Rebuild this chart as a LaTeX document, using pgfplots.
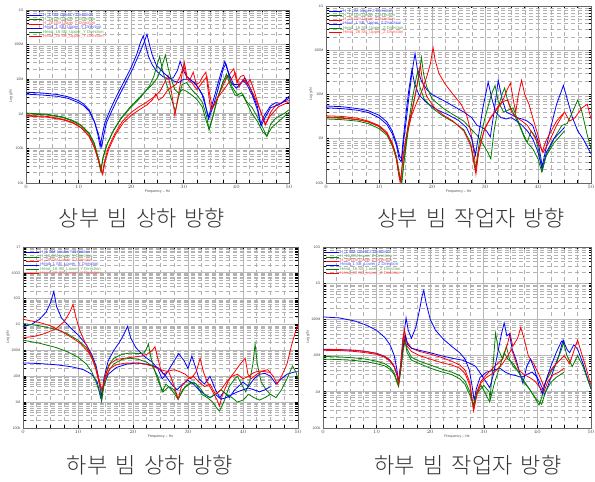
\documentclass[border=0pt]{standalone}
\usepackage{pgfplots}
\pgfplotsset{compat=1.18}
\usepackage{fontspec}
\setmainfont{Liberation Sans}
\IfFontExistsTF{Noto Sans CJK KR Light}{\newfontfamily\kr{Noto Sans CJK KR Light}[WordSpace=1.7]}{\newfontfamily\kr{Noto Sans CJK KR}[WordSpace=1.7]}
\definecolor{cblue}{RGB}{0,0,255}
\definecolor{cgreen}{RGB}{0,125,0}
\definecolor{cred}{RGB}{255,0,0}
\newcommand{\legt}[2]{\textcolor{#1!65}{#2}}
\pgfplotsset{
 legend image code/.code={\draw[#1] (0pt,0pt) -- (13pt,0pt);},
 frf/.style={
   scale only axis, xmin=0, xmax=50,
   xtick={0,10,20,30,40,50}, minor x tick num=3,
   grid=both,
   major grid style={draw=black!28, line width=0.9pt},
   minor grid style={draw=black!30, line width=0.5pt, dash pattern=on 4pt off 3pt},
   tick label style={font=\fontsize{3.6}{4}\selectfont, text=black!70},
   label style={font=\fontsize{3.6}{4}\selectfont, text=black!70},
   xlabel={Frequency -- Hz}, ylabel={Log g/N},
   xlabel style={yshift=5pt}, ylabel style={yshift=-5pt},
   xticklabel style={yshift=1.5pt}, yticklabel style={xshift=1pt},
   axis line style={black!60, line width=0.4pt},
   tick style={black, line width=0.6pt},
   major tick length=2.5pt, minor tick length=2.5pt,
   legend style={draw=none, fill=none, at={(0.01,0.985)}, anchor=north west,
     font=\fontsize{4.2}{4.6}\selectfont, row sep=-1.6pt, inner sep=0pt,
     nodes={inner sep=0.6pt}},
   legend cell align=left,
   every axis plot/.append style={line width=0.8pt},
 }
}
\begin{document}
\begin{tikzpicture}
\useasboundingbox (0,0) rectangle (595pt,482pt);
\fill[white] (0,0) rectangle (595pt,482pt);

% ---------------- Panel 1: Upper Y ----------------
\begin{axis}[ymode=log, frf, at={(26pt,299pt)}, anchor=south west, width=263pt, height=173pt,
  ymin=1e4, ymax=1e9, ytick={1e4,1e5,1e6,1e7,1e8,1e9}, yticklabels={10k,100k,1M,10M,100M,1G}]
\addplot[cblue] coordinates {(0,4.2e6)(3,4.0e6)(6,3.6e6)(8,3.1e6)(10,2.4e6)(11,1.9e6)(12,1.3e6)(13,6e5)(13.6,2.8e5)(14.1,1.1e5)(14.5,2.5e5)(15,5.5e5)(16,1.3e6)(17,2.8e6)(18,5.5e6)(19,1.1e7)(20,2.2e7)(21,5e7)(21.8,1.2e8)(22.3,1.8e8)(22.7,1.0e8)(23.3,4.5e7)(24,2.6e7)(25,1.6e7)(26,1.2e7)(27,1.0e7)(28,1.1e7)(28.8,1.8e7)(29.3,3.3e7)(29.8,2e7)(30.5,1.2e7)(31.5,9e6)(32.5,6.5e6)(33.5,3.5e6)(34.2,1.5e6)(34.7,8e5)(35.2,1.5e6)(36,4e6)(37,1.4e7)(37.8,3.3e7)(38.4,1.6e7)(39,8e6)(40,5.5e6)(41,8e6)(41.6,1.1e7)(42.3,7e6)(43,4e6)(44,1.6e6)(44.6,5e5)(45.3,9e5)(46.5,1.7e6)(47.5,2.1e6)(48.5,2e6)(50,3.2e6)};
\addlegendentry{\legt{cblue}{H\_1 DM Upper Y Direction}}
\addplot[cgreen] coordinates {(0,1.0e6)(4,9.3e5)(7,7.8e5)(9,6e5)(10.5,4.5e5)(12,2.6e5)(13,1.3e5)(13.7,5e4)(14.2,2.2e4)(14.6,5e4)(15.3,1.2e5)(16.5,3e5)(18,7e5)(19.5,1.3e6)(21,2.2e6)(22.5,4e6)(23.5,6.5e6)(24.3,1.2e7)(24.9,2.5e7)(25.4,4.5e7)(25.9,2e7)(26.6,8e6)(27.3,4e6)(27.9,2e6)(28.4,1.2e6)(29,3e6)(29.7,7e6)(30.5,8e6)(31.5,5e6)(32.5,3.5e6)(33.5,2.2e6)(34.3,9e5)(34.8,3.4e5)(35.4,7e5)(36.3,2.5e6)(37.3,7e6)(38.1,1.4e7)(38.8,7e6)(39.7,3.5e6)(40.5,3.2e6)(41.3,3.5e6)(42,2.2e6)(43,1.5e6)(44,8e5)(45,4e5)(45.8,2.2e5)(46.5,5e5)(47.5,7.5e5)(49,1e6)(50,1.3e6)};
\addlegendentry{\legt{cgreen}{H\_16 DM Upper Y Direction}}
\addplot[cred] coordinates {(0,9e5)(4,8.4e5)(7,7e5)(9,5.5e5)(10.5,4e5)(12,2.3e5)(13,1.1e5)(13.9,4e4)(14.5,1.8e4)(14.9,4e4)(15.6,1e5)(16.8,2.5e5)(18.3,6e5)(20,1.1e6)(21.5,1.6e6)(23,2.2e6)(24.5,3.2e6)(25.5,4.5e6)(26.5,9e6)(27,1.3e7)(27.5,6e6)(28,2e6)(28.3,9e5)(28.8,2.5e6)(29.5,1e7)(30.1,3.1e7)(30.6,1.2e7)(31.2,1e7)(31.8,1.6e7)(32.4,7e6)(33,8e6)(33.6,1.2e7)(34.2,1.6e7)(34.6,5e6)(35.1,1.3e6)(35.8,1.8e6)(36.8,4e6)(38,1e7)(39,1.6e7)(39.5,2e7)(40.1,8e6)(40.8,1.2e7)(41.4,1.3e7)(42,7e6)(42.6,1e7)(43.3,5e6)(44.3,1.6e6)(45.5,4.7e5)(46.5,1.1e6)(47.5,1.8e6)(49,2.2e6)(50,2.4e6)};
\addlegendentry{\legt{cred}{H\_28 DM Upper Y Direction}}
\addplot[cblue] coordinates {(0,3.7e6)(3,3.5e6)(6,3.2e6)(8,2.8e6)(10,2.1e6)(11,1.7e6)(12,1.2e6)(13,6e5)(13.8,2.5e5)(14.4,1.1e5)(14.8,2.5e5)(15.3,5.5e5)(16.3,1.2e6)(17.3,2.5e6)(18.3,5e6)(19.3,1e7)(20.3,2e7)(21.3,4.5e7)(22.4,1.1e8)(23.0,2e8)(23.4,1.1e8)(24,5e7)(24.8,2.5e7)(25.5,2e7)(26.2,1.5e7)(27,1.2e7)(28,9e6)(29,8e6)(30,1e7)(31,1e7)(32,8e6)(33,5e6)(33.8,3e6)(34.7,7e5)(35.5,1.5e6)(36.5,5e6)(37.5,2e7)(38,2.8e7)(38.6,1.4e7)(39.5,7e6)(40.5,7e6)(41.3,9e6)(42,7e6)(43,3.5e6)(44,1.3e6)(44.7,4.5e5)(45.5,8e5)(46.5,1.5e6)(48,1.8e6)(50,2.8e6)};
\addlegendentry{\legt{cblue}{Head\_1 SB\_Upper\_Y Direction}}
\addplot[cgreen] coordinates {(0,1.05e6)(4,9.7e5)(7,8.1e5)(9,6.3e5)(10.5,4.7e5)(12,2.8e5)(13,1.4e5)(13.8,5e4)(14.3,2.5e4)(14.7,6e4)(15.5,1.4e5)(16.7,3.5e5)(18.2,8e5)(19.7,1.5e6)(21.2,2.6e6)(22.7,4.5e6)(24,7e6)(25,1.1e7)(25.8,2.2e7)(26.5,5e7)(27,2.2e7)(27.6,1e7)(28.3,5e6)(29,4e6)(29.8,5e6)(30.5,4.5e6)(31.5,3.5e6)(32.5,2.6e6)(33.5,1.6e6)(34.3,6e5)(34.8,3.6e5)(35.5,8e5)(36.5,3e6)(37.5,9e6)(38.4,1.3e7)(39.2,6e6)(40.2,3.5e6)(41,4e6)(42,2e6)(43,1e6)(44,6e5)(45,3e5)(45.8,2.3e5)(46.7,4e5)(48,6e5)(50,1.1e6)};
\addlegendentry{\legt{cgreen}{Head\_16 SB\_Upper\_Y Direction}}
\addplot[cred] coordinates {(0,8.6e5)(4,8e5)(7,6.7e5)(9,5.3e5)(10.5,3.9e5)(12,2.2e5)(13,1.05e5)(14,3.5e4)(14.6,1.8e4)(15,4e4)(15.8,1e5)(17,2.5e5)(18.5,5.5e5)(20,9e5)(21.5,1.3e6)(23,1.8e6)(24,2.5e6)(24.7,3.8e6)(25.2,2.5e6)(26,3e6)(27,5e6)(28.5,7e6)(29.3,1.2e7)(30,2.5e7)(30.6,1e7)(31.5,8e6)(32.5,5e6)(33.5,8e6)(34.4,1.2e7)(35,3e6)(35.5,1.5e6)(36.5,3e6)(38,6e6)(39,1e7)(39.8,1.5e7)(40.5,6e6)(41.3,1e7)(42.3,7e6)(43.3,3.5e6)(44.5,1.3e6)(45.5,5e5)(46.5,9e5)(48,1.6e6)(50,2.2e6)};
\addlegendentry{\legt{cred}{Head\_28 SB\_Upper\_Y Direction}}
\end{axis}

% ---------------- Panel 2: Upper Z ----------------
\begin{axis}[ymode=log, frf, at={(326pt,299pt)}, anchor=south west, width=265pt, height=177pt,
  ymin=1e5, ymax=1e9, ytick={1e5,1e6,1e7,1e8,1e9}, yticklabels={100k,1M,10M,100M,1G}]
\addplot[cblue] coordinates {(0,5.5e6)(3,5.3e6)(6,4.8e6)(8,4.3e6)(10,3.4e6)(11.5,2.4e6)(12.5,1.5e6)(13.3,8e5)(13.9,4e5)(14.3,3.5e5)(14.7,1e6)(15.2,3e6)(15.7,1e7)(16.2,3e7)(16.8,8.5e7)(17.2,4e7)(18,2e7)(19,1.3e7)(20,1e7)(22,7.5e6)(24,5.5e6)(26,4e6)(27.5,3e6)(28.5,2e6)(29.5,1.8e6)(30.3,1.5e6)(31,1.1e6)(31.7,4e6)(32.5,2.1e7)(33.2,8e6)(34,4e6)(35,3.5e6)(36,3e6)(37,2.8e6)(38,2.5e6)(39,2e6)(40,9e5)(40.8,2.4e5)(41.5,6e5)(42.5,2e6)(43.5,6e6)(44.8,1.6e7)(45.5,8e6)(46.5,3e6)(47.5,1.5e6)(48.5,1e6)(50,4.6e5)};
\addlegendentry{\legt{cblue}{H\_1 DM Upper Z Direction}}
\addplot[cgreen] coordinates {(0,3.1e6)(3,3e6)(6,2.7e6)(8,2.4e6)(10,1.9e6)(11.5,1.3e6)(12.5,8e5)(13.3,4e5)(13.9,1.5e5)(14.3,1.1e5)(14.7,3e5)(15.5,1.5e6)(16.3,5e6)(17,1.2e7)(17.6,3e7)(18,6.9e7)(18.4,3e7)(19,1.5e7)(20,8e6)(22,5e6)(24,3.5e6)(26,2.5e6)(27.5,1.6e6)(28.5,1.2e6)(29.5,8e5)(30.5,5e5)(31.1,3.5e5)(31.7,1.5e6)(32.5,5e6)(33.2,1e7)(33.7,1.4e7)(34.3,7e6)(35.5,3.5e6)(36.5,2e6)(37.5,1e6)(38,8.5e5)(38.7,1.5e6)(39.5,1.1e6)(40.2,5e5)(40.8,1.9e5)(41.5,4e5)(43,1e6)(44.5,2e6)(45.5,2.2e6)(46.5,4e6)(47.5,7.5e6)(48.3,4e6)(49.3,1.2e6)(50,6e5)};
\addlegendentry{\legt{cgreen}{H\_16 DM Upper Z Direction}}
\addplot[cred] coordinates {(0,3.3e6)(3,3.2e6)(6,2.9e6)(8,2.5e6)(10,2e6)(11.5,1.4e6)(12.5,8e5)(13.2,4e5)(13.7,1.6e5)(14.0,1e5)(14.4,2.5e5)(15.2,1.2e6)(16.2,3.5e6)(17.2,7e6)(18.2,1.3e7)(19,2.5e7)(19.7,5e7)(20.2,1.15e8)(20.6,6e7)(21.3,3e7)(22.5,1.7e7)(24,1e7)(25.5,6e6)(26.5,3.5e6)(27.3,1.5e6)(28,4e5)(28.3,1.6e5)(28.8,5e5)(29.8,1.5e6)(31,3e6)(32.5,5e6)(33.5,8e6)(34.2,1.3e7)(34.8,1.8e7)(35.3,8e6)(35.8,4e6)(36.3,1e7)(36.9,2.1e7)(37.5,1e7)(38.3,6e6)(39,3e6)(40,1.2e6)(40.8,5e5)(41.5,9e5)(42.5,1.5e6)(43.5,2.5e6)(45,4e6)(46,2.5e6)(47,3e6)(48.3,5e6)(49.3,6e6)(49.8,3.5e6)(50,2.8e6)};
\addlegendentry{\legt{cred}{H\_28 DM Upper Z Direction}}
\addplot[cblue] coordinates {(0,5e6)(3,4.8e6)(6,4.4e6)(8,3.9e6)(10,3e6)(11.5,2.1e6)(12.5,1.3e6)(13.3,7e5)(13.8,3.5e5)(14.2,3e5)(14.5,8e5)(15,3e6)(15.6,1.2e7)(16.2,3.6e7)(16.7,1.8e7)(17.5,1e7)(19,6.5e6)(21,4.5e6)(23,3.5e6)(25,2.6e6)(26.5,1.8e6)(27.5,1e6)(28.2,4.3e5)(28.8,1.2e6)(29.6,5e6)(30.6,1.9e7)(31.3,8e6)(32,4e6)(33,3e6)(34,2.8e6)(35,3e6)(36,2.5e6)(37,2e6)(38,1.5e6)(39,1e6)(40,5e5)(40.8,2e5)(41.6,5e5)(43,1e6)(45,1.8e6)};
\addlegendentry{\legt{cblue}{Head\_1 SB\_Upper\_Z Direction}}
\addplot[cgreen] coordinates {(0,2.8e6)(3,2.7e6)(6,2.5e6)(8,2.2e6)(10,1.7e6)(11.5,1.2e6)(12.5,7e5)(13.3,3.5e5)(13.9,1.4e5)(14.3,1e5)(14.7,3e5)(15.5,2e6)(16.3,8e6)(16.9,2e7)(17.3,3.4e7)(17.7,1.5e7)(18.5,8e6)(20,5e6)(22,3.3e6)(24,2.4e6)(26,1.6e6)(27.3,8e5)(28.2,2e5)(28.9,8e5)(30,3e6)(31.2,1e7)(31.9,1.6e7)(32.5,7e6)(33.5,4e6)(34.5,4.5e6)(35.3,5e6)(36,3e6)(37,1.5e6)(38,8e5)(39,6e5)(40,3.5e5)(40.7,1.8e5)(41.5,4e5)(43,8e5)(45,1.5e6)};
\addlegendentry{\legt{cgreen}{Head\_16 SB\_Upper\_Z Direction}}
\addplot[cred] coordinates {(0,3e6)(3,2.9e6)(6,2.7e6)(8,2.4e6)(10,1.9e6)(11.5,1.3e6)(12.5,7.5e5)(13.3,3.5e5)(13.8,1.4e5)(14.1,1.1e5)(14.5,4e5)(15.5,2e6)(16.5,6e6)(17.3,2e7)(17.8,4.6e7)(18.2,2e7)(19,9e6)(20.5,5e6)(22,3.5e6)(24,2.5e6)(26,1.5e6)(27.3,7e5)(28.2,1.8e5)(28.9,6e5)(30,1.8e6)(31.5,3.5e6)(32.5,5.5e6)(33.5,7e6)(34.3,7.5e6)(35,4e6)(36,3e6)(37,2.5e6)(38,2e6)(39,1.3e6)(40,8e5)(41,5e5)(42,8e5)(43.5,2e6)(45,4e6)};
\addlegendentry{\legt{cred}{Head\_28 SB\_Upper\_Z Direction}}
\end{axis}

% ---------------- Panel 3: Lower Y ----------------
\begin{axis}[ymode=log, frf, at={(23pt,54pt)}, anchor=south west, width=275pt, height=181pt,
  ymin=1e5, ymax=1e12, ytick={1e5,1e6,1e7,1e8,1e9,1e10,1e11,1e12}, yticklabels={100k,1M,10M,100M,1G,10G,100G,1T}]
\addplot[cblue] coordinates {(0,8.5e8)(1.5,1e9)(3,1.6e9)(4.2,3e9)(5,7e9)(5.6,1.9e10)(6.1,5e9)(7,1.8e9)(8.5,8e8)(10,4e8)(11.5,1.7e8)(12.5,7e7)(13.3,2.5e7)(13.9,6e6)(14.3,1.2e6)(14.7,8e6)(15.5,4e7)(16.5,1e8)(17.5,2e8)(18.3,4e8)(19,8.5e8)(19.6,3e8)(20.5,1.3e8)(22,6e7)(23.5,3.5e7)(24.5,2e7)(25.3,8e6)(26,1.2e7)(27.5,4e7)(28.3,7.5e7)(29.3,4e7)(30,2e7)(30.7,6e7)(31.3,2.5e7)(32,8e6)(33,5e6)(34,1e7)(35,3e6)(35.8,1.5e6)(36.5,2.5e6)(37.5,1.5e6)(38.5,3e6)(40,6e6)(41,4e6)(42,8e6)(43,1.2e7)(44,1.3e7)(45,1e7)(46,5e6)(47,8e6)(48,1.2e7)(49.5,1.5e7)(50,1.5e7)};
\addlegendentry{\legt{cblue}{H\_1 DM Lower Y Direction}}
\addplot[cgreen] coordinates {(0,1.1e9)(3,9e8)(6,6.5e8)(8,4.5e8)(10,2.5e8)(11.5,1.3e8)(12.5,6e7)(13.3,2e7)(13.9,5e6)(14.3,1.2e6)(14.7,6e6)(15.5,2.5e7)(16.5,5e7)(18,7e7)(19.5,8e7)(21,7.5e7)(22,8e7)(22.5,1.2e8)(22.8,1.8e8)(23.2,6e7)(24,1.5e7)(24.8,5e6)(25.5,2.5e6)(26.5,4e6)(27.5,3e6)(28.2,1.3e6)(29,3e6)(30.5,6e6)(31.5,5e6)(32.5,2e6)(33.5,1.5e6)(34.5,1e6)(35.2,6e5)(35.7,4.5e5)(36.5,1e6)(37.5,4e6)(38.5,8e6)(39,1e7)(39.7,5e6)(40.5,2.5e6)(41.2,6e6)(41.8,3e7)(42.2,1.8e8)(42.6,3e7)(43.3,6e6)(44.2,3e6)(45,2e6)(46,1.5e6)(47,3e6)(48,8e6)(49,2.5e7)(49.6,1.5e7)(50,8e6)};
\addlegendentry{\legt{cgreen}{H\_16 DM Lower Y Direction}}
\addplot[cred] coordinates {(0,1.6e9)(3,1.2e9)(5,9e8)(7,5.5e8)(9,3e8)(10.5,1.8e8)(12,8e7)(13,3e7)(13.8,8e6)(14.4,2.5e6)(14.9,1e7)(15.8,3e7)(17,4.5e7)(18.5,5e7)(20,5.5e7)(21.5,6e7)(22.5,7e7)(23.5,1e8)(24,1.4e8)(24.4,6e7)(25,2e7)(25.5,1.2e7)(26.5,1.6e7)(27.5,1.8e7)(28.5,1.5e7)(29.5,1.2e7)(30.5,8e6)(31.5,1.5e7)(32.2,4.9e7)(32.8,1.5e7)(33.5,6e6)(34.5,2.5e6)(35.3,1.2e6)(35.7,7e5)(36.3,2e6)(37.5,8e6)(38.5,1.5e7)(39.5,3e7)(40.4,5e7)(40.9,1.2e7)(41.5,8e6)(42.5,1.2e7)(43.5,1.6e7)(44.5,1.8e7)(45.5,1e7)(46.2,5e6)(47,1e7)(48,3e7)(48.8,1.5e8)(49.5,5e8)(50,9e8)};
\addlegendentry{\legt{cred}{H\_28 DM Lower Y Direction}}
\addplot[cblue] coordinates {(0,3.3e7)(3,3.1e7)(6,2.8e7)(9,2.3e7)(11,1.8e7)(12.5,1.2e7)(13.5,6e6)(14.1,1.5e6)(14.6,4e6)(15.5,1.2e7)(17,2.2e7)(19,3e7)(21,3.3e7)(23,2.8e7)(24.5,2.2e7)(26,1e7)(27,5e6)(28,3e6)(29,5e6)(30,7e6)(31,5e6)(32,3e6)(33,2e6)(34,1.5e6)(35,2e6)(36,1.3e6)(37,1.5e6)(38,2e6)(39,2.5e6)(40,3e6)(41,3.5e6)(42,3e6)(43,2.5e6)(44,3e6)(45,4e6)};
\addlegendentry{\legt{cblue}{Head\_1 SB\_Lower\_Y Direction}}
\addplot[cgreen] coordinates {(0,2.5e8)(3,1.9e8)(6,1.3e8)(8,9e7)(10,5.5e7)(11.5,3e7)(12.5,1.5e7)(13.3,6e6)(13.9,2.5e6)(14.3,1.2e6)(14.7,4e6)(15.5,1.5e7)(16.5,3e7)(18,4.5e7)(19.5,5e7)(21,4.5e7)(22.5,3.5e7)(23.5,2.5e7)(24.5,1e7)(25.3,2.5e6)(26,5e6)(27,3e6)(28.2,1.3e6)(29.5,4e6)(31,6e6)(32,4e6)(33,2e6)(34,1.5e6)(35,2e6)(36,3e6)(37,2e6)(38,1.5e6)(39,1e6)(40,1.2e6)(41,2e6)(42,1.5e6)(43,1.2e6)(44,1.5e6)(45,2e6)};
\addlegendentry{\legt{cgreen}{Head\_16 SB\_Lower\_Y Direction}}
\addplot[cred] coordinates {(0,3.1e8)(2,3.5e8)(4,4.5e8)(6,7e8)(7.5,1.3e9)(8.5,3e9)(9.1,6e9)(9.6,2e9)(10.3,6e8)(11.3,2e8)(12.3,7e7)(13.2,2e7)(13.9,5e6)(14.4,3e6)(14.9,8e6)(15.8,2e7)(17,2.8e7)(18.5,3.2e7)(20,3.3e7)(22,3e7)(23.5,2.5e7)(25,1.8e7)(26.5,1.5e7)(27,8e6)(27.7,3e6)(28.2,1.3e6)(28.8,4e6)(30,8e6)(31,1e7)(32,6e6)(33,4e6)(34,5e6)(35,2e6)(36,3e6)(37,6e6)(38,1e7)(39,1.2e7)(40,8e6)(41,1e7)(42,1.4e7)(43,1.6e7)(44,1.5e7)(45,1.4e7)};
\addlegendentry{\legt{cred}{Head\_28 SB\_Lower\_Y Direction}}
\end{axis}

% ---------------- Panel 4: Lower Z ----------------
\begin{axis}[ymode=log, frf, at={(323pt,54pt)}, anchor=south west, width=268pt, height=181pt,
  ymin=1e5, ymax=1e10, ytick={1e5,1e6,1e7,1e8,1e9,1e10}, yticklabels={100k,1M,10M,100M,1G,10G}]
\addplot[cblue] coordinates {(0,1.17e8)(3,1.1e8)(6,9e7)(8,7e7)(10,5e7)(11.5,3.2e7)(12.5,2e7)(13.3,1e7)(13.8,4e6)(14.1,1.8e6)(14.5,5e6)(15.0,3e7)(15.5,1.1e8)(15.9,5e7)(16.5,3e7)(17.3,6e7)(18,1.8e8)(18.5,4.5e8)(18.8,6.3e8)(19.2,3e8)(20,1e8)(21,5e7)(22.5,2.8e7)(24,1.8e7)(25.5,1.2e7)(26.5,8e6)(27.3,4e6)(27.8,1.5e6)(28.2,5.8e5)(28.6,1.2e6)(29.3,2.5e6)(30.5,3.5e6)(32,4e6)(33,4.5e6)(34,3.5e6)(35,3e6)(36,2.8e6)(37,2.5e6)(38,3e6)(39,3.5e6)(40,2.5e6)(41,1.2e6)(41.3,8e5)(42,1.5e6)(43,4e6)(44,1e7)(44.8,2.7e7)(45.5,1.5e7)(46,1.2e7)(46.8,2e7)(47.5,1.5e7)(48.5,6e6)(50,1.2e6)};
\addlegendentry{\legt{cblue}{H\_1 DM Lower Z Direction}}
\addplot[cgreen] coordinates {(0,9.5e6)(3,9.2e6)(6,8.6e6)(8,8e6)(10,7e6)(11.5,6e6)(12.5,4.8e6)(13.3,3.3e6)(13.8,2e6)(14.1,1.5e6)(14.5,4e6)(15,2e7)(15.3,3.2e7)(15.7,1.5e7)(16.5,9e6)(18,7e6)(20,5.5e6)(22,4.3e6)(24,3.5e6)(25.5,2.8e6)(26.5,2e6)(27.4,1e6)(28.1,3.8e5)(28.7,1e6)(29.5,1.5e6)(30.3,9e5)(31.1,5.2e5)(31.7,5e6)(32.2,4.2e7)(32.7,1.5e7)(33.5,8e6)(34.2,1.8e7)(34.8,8e6)(35.5,5e6)(36.5,3.5e6)(37.5,2e6)(38.5,1.2e6)(39.5,7e5)(40.3,4.3e5)(40.8,7e5)(41.5,1.8e6)(42.5,3.5e6)(43.5,6e6)(44.5,1.5e7)(44.9,2.3e7)(45.5,1e7)(46.5,5e6)(47.5,1e7)(48.5,5e6)(50,1.2e6)};
\addlegendentry{\legt{cgreen}{H\_16 DM Lower Z Direction}}
\addplot[cred] coordinates {(0,1.4e7)(3,1.38e7)(6,1.3e7)(8,1.2e7)(10,1.08e7)(11.5,9e6)(12.5,7e6)(13.3,4.8e6)(13.8,3e6)(14.1,2e6)(14.5,6e6)(14.9,3e7)(15.2,5.2e7)(15.6,2.5e7)(16.5,1.6e7)(18,1.3e7)(20,1.1e7)(22,9e6)(24,7e6)(25.5,5.5e6)(26.5,4e6)(27.4,1.8e6)(28.1,3.1e5)(28.7,1e6)(29.5,2e6)(30.5,3e6)(32,5e6)(33.5,8e6)(34.4,2e7)(34.9,4.2e7)(35.4,1.8e7)(36.3,3e7)(36.9,6e7)(37.5,3e7)(38.3,1e7)(39.3,6e6)(40.3,3e6)(41.2,1.4e6)(42,3e6)(43,5e6)(44,7e6)(45,1e7)(46,6e6)(46.7,1.2e7)(47.5,2.7e7)(48.2,1.2e7)(49,5e6)(50,1.5e6)};
\addlegendentry{\legt{cred}{H\_28 DM Lower Z Direction}}
\addplot[cblue] coordinates {(0,1.48e7)(3,1.45e7)(6,1.4e7)(8,1.3e7)(10,1.15e7)(11.5,9.5e6)(12.5,7.5e6)(13.3,5e6)(13.8,3e6)(14.1,1.8e6)(14.5,5e6)(15,1.8e7)(15.4,3.5e7)(15.8,2e7)(16.5,1.6e7)(18,1.4e7)(20,1.2e7)(22,1e7)(24,8.5e6)(26,7.5e6)(27.5,6e6)(28.5,5e6)(29.5,3e6)(30.3,2e6)(31.1,1.3e6)(31.8,3e6)(32.5,1e7)(33.3,4e7)(33.8,8e7)(34.3,3.5e7)(34.8,4e7)(35.3,1.5e7)(36,8e6)(36.8,3e6)(37.3,1.7e6)(38,5e6)(38.7,8e6)(39.5,4e6)(40.3,1.5e6)(40.9,9e5)(41.5,1.8e6)(42.5,5e6)(43.5,1.2e7)(44.5,2.5e7)(45,2.2e7)};
\addlegendentry{\legt{cblue}{Head\_1 SB\_Lower\_Z Direction}}
\addplot[cgreen] coordinates {(0,8e6)(3,7.8e6)(6,7.3e6)(8,6.8e6)(10,6e6)(11.5,5.2e6)(12.5,4.2e6)(13.3,3e6)(13.8,1.8e6)(14.1,1.4e6)(14.5,4e6)(15,1.5e7)(15.3,2.5e7)(15.7,1.2e7)(16.5,7.5e6)(18,6e6)(20,4.5e6)(22,3.6e6)(24,3e6)(25.5,2.3e6)(26.5,1.6e6)(27.4,8e5)(28.1,4.5e5)(28.7,9e5)(30,1.5e6)(31,1e6)(31.2,6e5)(32,1.8e6)(33,5e6)(33.8,1.2e7)(34.5,8e6)(35.5,6e6)(36.5,3.5e6)(37.5,1.8e6)(38.5,1.2e6)(39.5,7e5)(40.8,4.5e5)(41.5,1e6)(42.5,1.8e6)(43.5,2.5e6)(45,3.5e6)};
\addlegendentry{\legt{cgreen}{Head\_16 SB\_Lower\_Z Direction}}
\addplot[cred] coordinates {(0,1.5e7)(3,1.47e7)(6,1.4e7)(8,1.3e7)(10,1.15e7)(11.5,9.5e6)(12.5,7.5e6)(13.3,5e6)(13.8,3e6)(14.1,1.7e6)(14.5,5e6)(14.9,2.5e7)(15.1,4e7)(15.5,2e7)(16.5,1.3e7)(18,1e7)(20,8e6)(22,6.5e6)(24,5.5e6)(25.5,4.5e6)(26.5,3.2e6)(27.4,1.5e6)(28.1,3e5)(28.7,8e5)(29.5,1.8e6)(30.5,2.5e6)(32,3.5e6)(33.5,6e6)(34.5,1e7)(35.2,1.5e7)(35.8,8e6)(36.5,4e6)(37.5,3e6)(38.5,2.5e6)(39.5,2e6)(40.5,1.3e6)(41.2,1e6)(42,2e6)(43,3e6)(44,3.5e6)(45,4.5e6)};
\addlegendentry{\legt{cred}{Head\_28 SB\_Lower\_Z Direction}}
\end{axis}

% ---------------- Titles ----------------
\node[font=\kr\fontsize{22}{24}\selectfont, text=black!80] at (142pt,264pt) {상부 빔 상하 방향};
\node[font=\kr\fontsize{22}{24}\selectfont, text=black!80] at (471pt,264pt) {상부 빔 작업자 방향};
\node[font=\kr\fontsize{22}{24}\selectfont, text=black!80] at (150pt,17pt) {하부 빔 상하 방향};
\node[font=\kr\fontsize{22}{24}\selectfont, text=black!80] at (468pt,17pt) {하부 빔 작업자 방향};
\end{tikzpicture}
\end{document}
